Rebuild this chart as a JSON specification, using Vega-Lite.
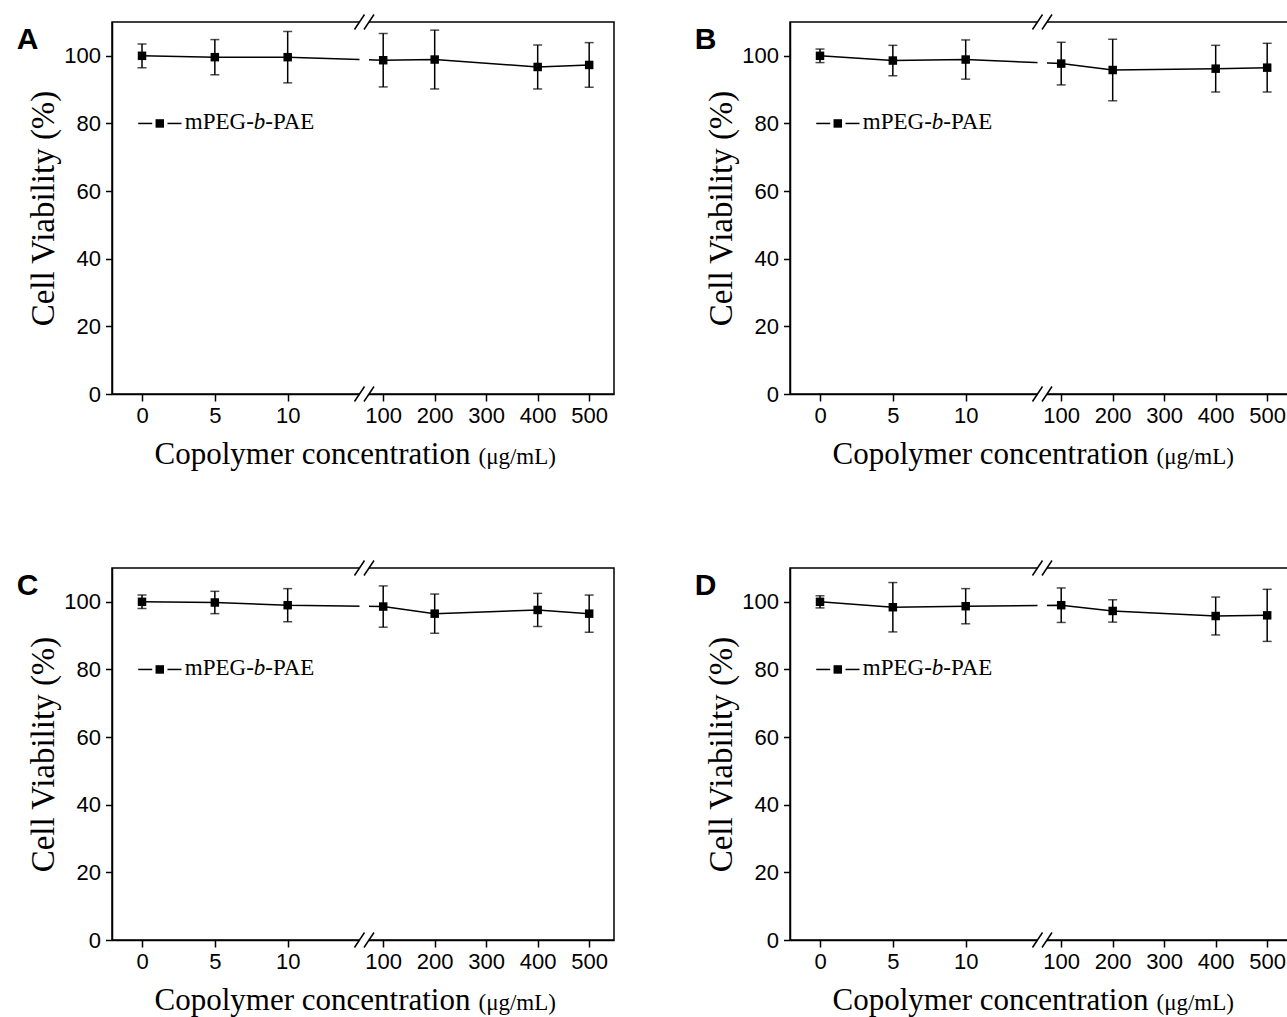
{
  "$schema": "https://vega.github.io/schema/vega-lite/v6.json",
  "padding": {"left": 15, "top": 11, "right": 0, "bottom": 0},
  "background": "white",
  "data": {"values": [
    {"panel": "A", "conc": 0, "v": 100.0, "err": 3.5},
    {"panel": "A", "conc": 5, "v": 99.6, "err": 5.2},
    {"panel": "A", "conc": 10, "v": 99.6, "err": 7.6},
    {"panel": "A", "conc": 100, "v": 98.7, "err": 7.9},
    {"panel": "A", "conc": 200, "v": 98.9, "err": 8.7},
    {"panel": "A", "conc": 400, "v": 96.7, "err": 6.5},
    {"panel": "A", "conc": 500, "v": 97.3, "err": 6.6},
    {"panel": "B", "conc": 0, "v": 100.0, "err": 2.0},
    {"panel": "B", "conc": 5, "v": 98.6, "err": 4.5},
    {"panel": "B", "conc": 10, "v": 98.9, "err": 5.8},
    {"panel": "B", "conc": 100, "v": 97.7, "err": 6.3},
    {"panel": "B", "conc": 200, "v": 95.8, "err": 9.1},
    {"panel": "B", "conc": 400, "v": 96.2, "err": 6.9},
    {"panel": "B", "conc": 500, "v": 96.5, "err": 7.2},
    {"panel": "C", "conc": 0, "v": 100.0, "err": 2.0},
    {"panel": "C", "conc": 5, "v": 99.8, "err": 3.3},
    {"panel": "C", "conc": 10, "v": 99.0, "err": 4.9},
    {"panel": "C", "conc": 100, "v": 98.6, "err": 6.1},
    {"panel": "C", "conc": 200, "v": 96.5, "err": 5.8},
    {"panel": "C", "conc": 400, "v": 97.6, "err": 4.9},
    {"panel": "C", "conc": 500, "v": 96.5, "err": 5.5},
    {"panel": "D", "conc": 0, "v": 100.0, "err": 1.8},
    {"panel": "D", "conc": 5, "v": 98.4, "err": 7.3},
    {"panel": "D", "conc": 10, "v": 98.7, "err": 5.2},
    {"panel": "D", "conc": 100, "v": 99.0, "err": 5.1},
    {"panel": "D", "conc": 200, "v": 97.3, "err": 3.3},
    {"panel": "D", "conc": 400, "v": 95.8, "err": 5.6},
    {"panel": "D", "conc": 500, "v": 96.0, "err": 7.7}
  ]},
  "facet": {"field": "panel", "type": "nominal", "title": null, "header": {"title": null, "labels": false, "labelExpr": "''", "labelFontSize": 0, "labelPadding": 0}},
  "columns": 2,
  "spacing": {"column": 78, "row": 85},
  "resolve": {"axis": {"x": "independent", "y": "independent"}},
  "spec": {
    "width": 502,
    "height": 372,
    "layer": [
      {
        "mark": {"type": "line", "color": "black", "strokeWidth": 1.5},
        "encoding": {
          "x": {
            "field": "conc", "type": "quantitative", "title": null,
            "scale": {"domain": [-2.06, 14.93, 72.43, 548.2], "range": [0, 247.5, 257, 502], "nice": false, "zero": false},
            "axis": {
              "values": [0, 2.5, 5, 7.5, 10, 12.5, 100, 150, 200, 250, 300, 350, 400, 450, 500],
              "title": null,
              "grid": false,
              "labelExpr": "((datum.value <= 10 && datum.value % 5 === 0) || datum.value % 100 === 0) ? datum.label : ''",
              "tickSize": {"condition": {"test": "(datum.value <= 10 && datum.value % 5 === 0) || datum.value % 100 === 0", "value": 7}, "value": 4},
              "labelFont": "Liberation Sans", "labelFontSize": 22, "labelColor": "black",
              "labelPadding": 4, "labelOverlap": false, "labelFlush": false, "labelBound": false,
              "domainColor": "black", "domainWidth": 1.5, "tickColor": "black", "tickWidth": 1.5
            }
          },
          "y": {
            "field": "v", "type": "quantitative", "title": "Cell Viability (%)",
            "scale": {"domain": [0, 110], "nice": false, "zero": false},
            "axis": {
              "values": [0, 10, 20, 30, 40, 50, 60, 70, 80, 90, 100],
              "title": "Cell Viability (%)",
              "titleFont": "Liberation Serif", "titleFontSize": 33, "titleFontWeight": "normal", "titleColor": "black", "titlePadding": 3,
              "grid": false,
              "labelExpr": "datum.value % 20 === 0 ? datum.label : ''",
              "tickSize": {"condition": {"test": "datum.value % 20 === 0", "value": 6.5}, "value": 4},
              "labelFont": "Liberation Sans", "labelFontSize": 22, "labelColor": "black",
              "labelPadding": 5, "labelOverlap": false, "labelFlush": false, "labelBound": false,
              "domainColor": "black", "domainWidth": 1.5, "tickColor": "black", "tickWidth": 1.5
            }
          }
        }
      },
      {
        "transform": [{"filter": "datum.conc === 0"}],
        "mark": {"type": "rect", "color": "white"},
        "encoding": {"x": {"datum": 14.93}, "x2": {"datum": 72.43}, "y": {"datum": -3}, "y2": {"datum": 113}}
      },
      {
        "mark": {"type": "errorbar", "ticks": {"size": 9, "color": "black"}, "rule": {"color": "black"}, "thickness": 1.5, "color": "black"},
        "encoding": {
          "x": {"field": "conc", "type": "quantitative", "title": null},
          "y": {"field": "v", "type": "quantitative", "title": "Cell Viability (%)"},
          "yError": {"field": "err"}
        }
      },
      {
        "mark": {"type": "point", "shape": "square", "filled": true, "size": 72, "color": "black", "opacity": 1},
        "encoding": {
          "x": {"field": "conc", "type": "quantitative", "title": null},
          "y": {"field": "v", "type": "quantitative", "title": "Cell Viability (%)"}
        }
      },
      {
        "transform": [{"filter": "datum.conc === 0"}],
        "layer": [
          {"mark": {"type": "rule", "color": "black", "strokeWidth": 1.5}, "encoding": {"x": {"datum": 14.585}, "x2": {"datum": 45.19}, "y": {"datum": 107.78}, "y2": {"datum": 112.22}}},
          {"mark": {"type": "rule", "color": "black", "strokeWidth": 1.5}, "encoding": {"x": {"datum": 42.17}, "x2": {"datum": 82.14}, "y": {"datum": 107.78}, "y2": {"datum": 112.22}}},
          {"mark": {"type": "rule", "color": "black", "strokeWidth": 1.5}, "encoding": {"x": {"datum": 14.585}, "x2": {"datum": 45.19}, "y": {"datum": -2.22}, "y2": {"datum": 2.22}}},
          {"mark": {"type": "rule", "color": "black", "strokeWidth": 1.5}, "encoding": {"x": {"datum": 42.17}, "x2": {"datum": 82.14}, "y": {"datum": -2.22}, "y2": {"datum": 2.22}}},
          {"mark": {"type": "rule", "color": "black", "strokeWidth": 1.5}, "encoding": {"x": {"datum": -0.26}, "x2": {"datum": 0.70}, "y": {"datum": 80}}},
          {"mark": {"type": "rule", "color": "black", "strokeWidth": 1.5}, "encoding": {"x": {"datum": 1.75}, "x2": {"datum": 2.71}, "y": {"datum": 80}}},
          {"mark": {"type": "point", "shape": "square", "filled": true, "size": 72, "color": "black", "opacity": 1}, "encoding": {"x": {"datum": 1.22}, "y": {"datum": 80}}},
          {"mark": {"type": "text", "text": "mPEG-", "align": "left", "baseline": "alphabetic", "dy": 6, "font": "Liberation Serif", "fontSize": 23, "color": "black"}, "encoding": {"x": {"datum": 2.94}, "y": {"datum": 80}}},
          {"mark": {"type": "text", "text": "b", "align": "left", "baseline": "alphabetic", "dx": 69, "dy": 6, "font": "Liberation Serif", "fontStyle": "italic", "fontSize": 23, "color": "black"}, "encoding": {"x": {"datum": 2.94}, "y": {"datum": 80}}},
          {"mark": {"type": "text", "text": "-PAE", "align": "left", "baseline": "alphabetic", "dx": 80.5, "dy": 6, "font": "Liberation Serif", "fontSize": 23, "color": "black"}, "encoding": {"x": {"datum": 2.94}, "y": {"datum": 80}}},
          {"mark": {"type": "text", "text": "Copolymer concentration", "align": "right", "baseline": "alphabetic", "font": "Liberation Serif", "fontSize": 31, "color": "black"}, "encoding": {"x": {"datum": 269.5}, "y": {"datum": -20.8}}},
          {"mark": {"type": "text", "text": "(μg/mL)", "align": "left", "baseline": "alphabetic", "dx": 8, "font": "Liberation Serif", "fontSize": 23, "color": "black"}, "encoding": {"x": {"datum": 269.5}, "y": {"datum": -20.8}}},
          {"mark": {"type": "text", "align": "left", "baseline": "alphabetic", "font": "Liberation Sans", "fontWeight": "bold", "fontSize": 30, "color": "black"}, "encoding": {"x": {"datum": -8.6}, "y": {"datum": 102}, "text": {"field": "panel"}}}
        ]
      }
    ]
  },
  "config": {
    "view": {"stroke": "black", "strokeWidth": 1.5},
    "axis": {"grid": false},
    "header": {"labels": false, "title": null, "labelFontSize": 0, "labelPadding": 0},
    "headerFacet": {"labels": false, "title": null, "labelFontSize": 0, "labelPadding": 0}
  }
}
